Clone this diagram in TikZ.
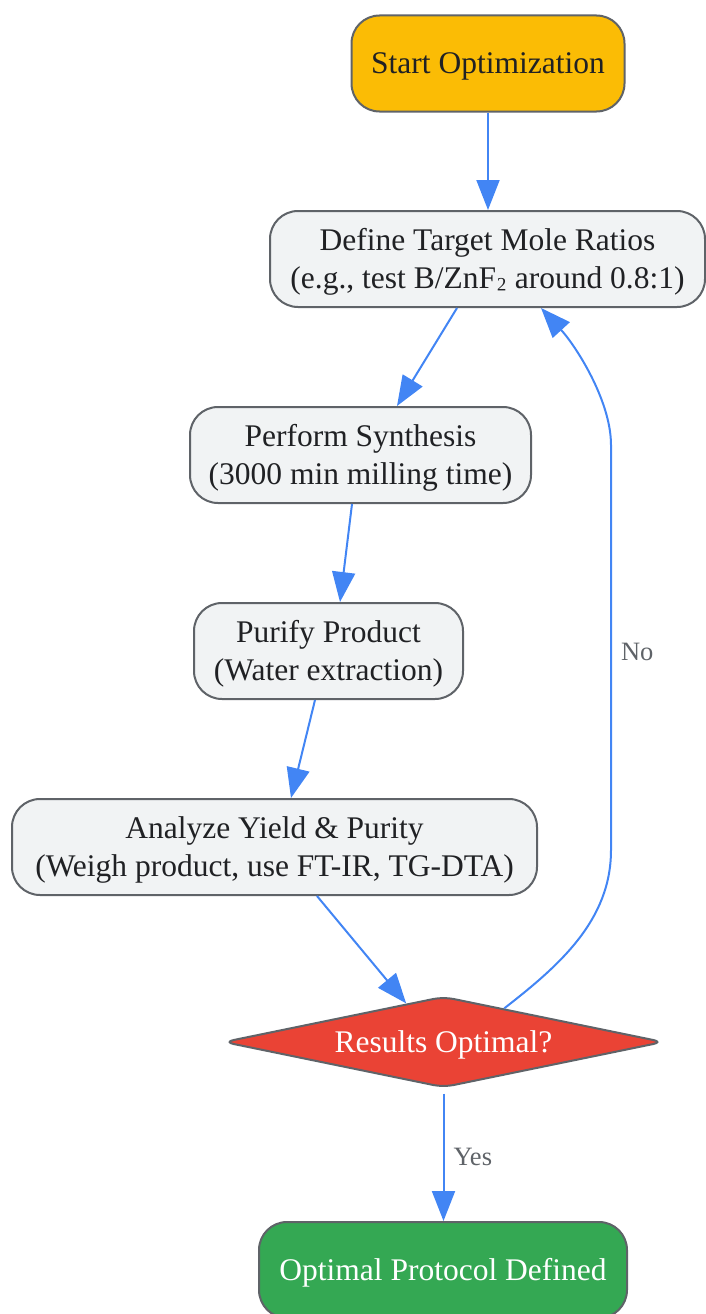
\documentclass[tikz,border=0pt]{standalone}
\usepackage{fontspec}
\setmainfont{Liberation Serif}
\usetikzlibrary{shapes.geometric,arrows.meta,calc}
\definecolor{startc}{HTML}{FBBC05}
\definecolor{procfill}{HTML}{F1F3F4}
\definecolor{bordc}{HTML}{5F6368}
\definecolor{arrowc}{HTML}{4285F4}
\definecolor{redc}{HTML}{EA4335}
\definecolor{greenc}{HTML}{34A853}
\definecolor{txt}{HTML}{202124}
\definecolor{lblc}{HTML}{5F6368}
\begin{document}
\begin{tikzpicture}[x=1pt,y=-1pt,
  base/.style={draw=bordc, line width=2pt, rounded corners=28pt, align=center,
    font=\fontsize{31.5}{37.6}\selectfont, inner sep=0pt, minimum height=96pt},
  oneline/.style={text height=21pt, text depth=0pt},
  twoline/.style={text height=58.6pt, text depth=0pt},
  proc/.style={base, twoline, fill=procfill, text=txt},
  flow/.style={draw=arrowc, line width=2pt, -{Triangle[length=30pt,width=23pt]}},
  lbl/.style={text=lblc, font=\fontsize{26.5}{30}\selectfont, inner sep=0pt, anchor=west, xshift=9pt}]
\useasboundingbox (0,0) rectangle (705,1314);

\node[base, oneline, fill=startc, text=txt, minimum width=273pt] (start) at (488,63.5) {Start Optimization};
\node[proc, minimum width=435pt] (def) at (487.5,259) {Define Target Mole Ratios\\(e.g., test B/ZnF\raisebox{3.5pt}{₂} around 0.8:1)};
\node[proc, minimum width=341pt] (syn) at (360.5,455) {Perform Synthesis\\(3000 min milling time)};
\node[proc, minimum width=269pt] (pur) at (328.5,651) {Purify Product\\(Water extraction)};
\node[proc, minimum width=525pt] (ana) at (274.5,847) {Analyze Yield \& Purity\\(Weigh product, use FT-IR, TG-DTA)};
\node[diamond, aspect=4.85, draw=bordc, line width=2pt, fill=redc, text=white,
  minimum width=440pt, minimum height=91pt, inner sep=0pt, rounded corners=10pt,
  oneline, font=\fontsize{31.5}{37.6}\selectfont] (dec) at (443.5,1042) {Results Optimal?};
\node[base, oneline, fill=greenc, text=white, minimum width=368pt] (opt) at (443,1270) {Optimal Protocol Defined};

\draw[flow] (start.south) -- (start.south |- def.north);
\draw[flow] ($(def.south)+(-30.5,0)$) -- ($(syn.north)+(36.5,0)$);
\draw[flow] ($(syn.south)+(-8.5,0)$) -- ($(pur.north)+(11.5,0)$);
\draw[flow] ($(pur.south)+(-13.5,0)$) -- ($(ana.north)+(16.5,0)$);
\draw[flow] ($(ana.south)+(42.5,0)$) -- (dec.134);
\draw[flow] ($(dec.south)+(0,5)$) -- node[lbl, pos=0.5] (yes) {Yes} (dec.south |- opt.north);
\draw[flow] (dec.29) .. controls (560,965) and (611,920) .. (611,850)
  -- node[lbl, pos=0.489] (no) {No} (611,445)
  .. controls (611,400) and (575,345) .. ($(def.south)+(53.5,0)$);
\end{tikzpicture}
\end{document}
